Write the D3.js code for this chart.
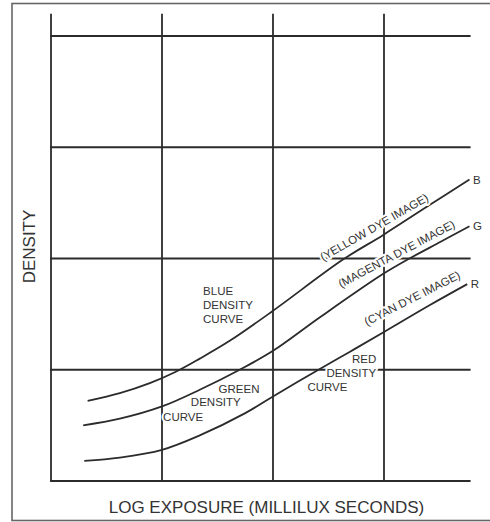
<!DOCTYPE html>
<html>
<head>
<meta charset="utf-8">
<script src="https://cdn.jsdelivr.net/npm/d3@7/dist/d3.min.js"></script>
<style>
  html, body { margin: 0; padding: 0; background: #fff; }
  svg { display: block; }
  text { font-family: "Liberation Sans", Arial, Helvetica, sans-serif; fill: #333; }
</style>
</head>
<body>
<svg id="chart" width="490" height="522"></svg>
<script>
// Grid positions (log exposure units across, density units up)
const gridX = [0, 1, 2, 3];
const gridY = [0, 1, 2, 3, 4];
const gridTop = 4.2;     // vertical grid lines run up past the last density line
const gridRight = 3.78;  // horizontal grid lines stop short of the frame

// Characteristic curves: [log exposure, density]
const blueCurve = [
  [0.33, 0.72], [0.62, 0.79], [0.89, 0.88], [1.12, 0.98], [1.34, 1.10],
  [1.61, 1.26], [2.00, 1.53], [2.63, 1.99], [2.99, 2.21], [3.41, 2.48], [3.77, 2.71]
];
const greenCurve = [
  [0.29, 0.50], [0.62, 0.56], [1.00, 0.67], [1.34, 0.82], [1.70, 1.00],
  [2.00, 1.17], [2.42, 1.47], [2.99, 1.86], [3.23, 2.00], [3.51, 2.15], [3.77, 2.29]
];
const redCurve = [
  [0.30, 0.18], [0.62, 0.21], [1.00, 0.28], [1.34, 0.41], [1.75, 0.61],
  [2.00, 0.76], [2.41, 1.00], [2.69, 1.16], [3.00, 1.34], [3.41, 1.58], [3.75, 1.77]
];

// End-of-curve letters
const curveNames = ["B", "G", "R"];

// Dye image labels set beside each curve: text, anchor [logE, density], angle
const dyeLabels = ["(YELLOW DYE IMAGE)", "(MAGENTA DYE IMAGE)", "(CYAN DYE IMAGE)"];
const dyeLabelAt = [[2.93, 2.25], [3.13, 2.01], [3.27, 1.61]];
const dyeLabelAngle = [-30, -28, -27];

// Curve captions: one entry per text line
const captionText = [
  "BLUE", "DENSITY", "CURVE",
  "GREEN", "DENSITY", "CURVE",
  "RED", "DENSITY", "CURVE"
];
const captionAt = [
  [1.37, 1.67], [1.37, 1.55], [1.37, 1.42],
  [1.51, 0.79], [1.26, 0.67], [1.01, 0.54],
  [2.93, 1.06], [2.93, 0.935], [2.31, 0.81]
];
const captionAnchor = [
  "start", "start", "start",
  "start", "start", "start",
  "end", "end", "start"
];

const xTitle = "LOG EXPOSURE (MILLILUX SECONDS)";
const yTitle = "DENSITY";

const svg = d3.select("#chart");
const W = 490, H = 522;

const x = d3.scaleLinear().domain([0, 4]).range([51, 495]);
const y = d3.scaleLinear().domain([0, 4]).range([481, 36]);

const ink = "#2b2b2b";

// Outer frame (right edge runs off the page)
svg.append("rect")
  .attr("x", 12).attr("y", 3.5)
  .attr("width", W + 10).attr("height", 517)
  .attr("fill", "none")
  .attr("stroke", "#666")
  .attr("stroke-width", 1.6);

// Grid
const grid = svg.append("g").attr("stroke", ink).attr("stroke-width", 1.8);
grid.selectAll("line.v").data(gridX).join("line")
  .attr("class", "v")
  .attr("x1", d => x(d)).attr("x2", d => x(d))
  .attr("y1", y(0)).attr("y2", y(gridTop));
grid.selectAll("line.h").data(gridY).join("line")
  .attr("class", "h")
  .attr("x1", x(0) - 0.9).attr("x2", x(gridRight))
  .attr("y1", d => y(d)).attr("y2", d => y(d));

// Curves
const line = d3.line()
  .x(d => x(d[0]))
  .y(d => y(d[1]))
  .curve(d3.curveCatmullRom.alpha(0.5));

const curves = [blueCurve, greenCurve, redCurve];
svg.append("g").selectAll("path").data(curves).join("path")
  .attr("d", line)
  .attr("fill", "none")
  .attr("stroke", ink)
  .attr("stroke-width", 1.8);

// Letters at curve ends
svg.append("g").selectAll("text").data(curves).join("text")
  .attr("x", d => x(d[d.length - 1][0]) + 3.5)
  .attr("y", d => y(d[d.length - 1][1]))
  .attr("dy", "0.36em")
  .attr("font-size", 11.5)
  .text((d, i) => curveNames[i]);

// Text with a white halo that breaks the grid behind it
function halo(sel) {
  return sel
    .attr("stroke", "#fff")
    .attr("stroke-width", 4)
    .attr("stroke-linejoin", "round")
    .attr("paint-order", "stroke");
}

// Dye image labels
svg.append("g").selectAll("text").data(dyeLabels).join("text")
  .attr("transform", (d, i) =>
    `translate(${x(dyeLabelAt[i][0])},${y(dyeLabelAt[i][1])}) rotate(${dyeLabelAngle[i]})`)
  .attr("text-anchor", "middle")
  .attr("font-size", 11.5)
  .call(halo)
  .text(d => d);

// Curve captions
svg.append("g").selectAll("text").data(captionText).join("text")
  .attr("x", (d, i) => x(captionAt[i][0]))
  .attr("y", (d, i) => y(captionAt[i][1]))
  .attr("text-anchor", (d, i) => captionAnchor[i])
  .attr("font-size", 11.5)
  .call(halo)
  .text(d => d);

// Axis titles
svg.append("text")
  .attr("x", 266.5).attr("y", 512.5)
  .attr("text-anchor", "middle")
  .attr("font-size", 17)
  .text(xTitle);

svg.append("text")
  .attr("transform", `translate(35,246.5) rotate(-90)`)
  .attr("text-anchor", "middle")
  .attr("font-size", 17)
  .text(yTitle);
</script>
</body>
</html>
